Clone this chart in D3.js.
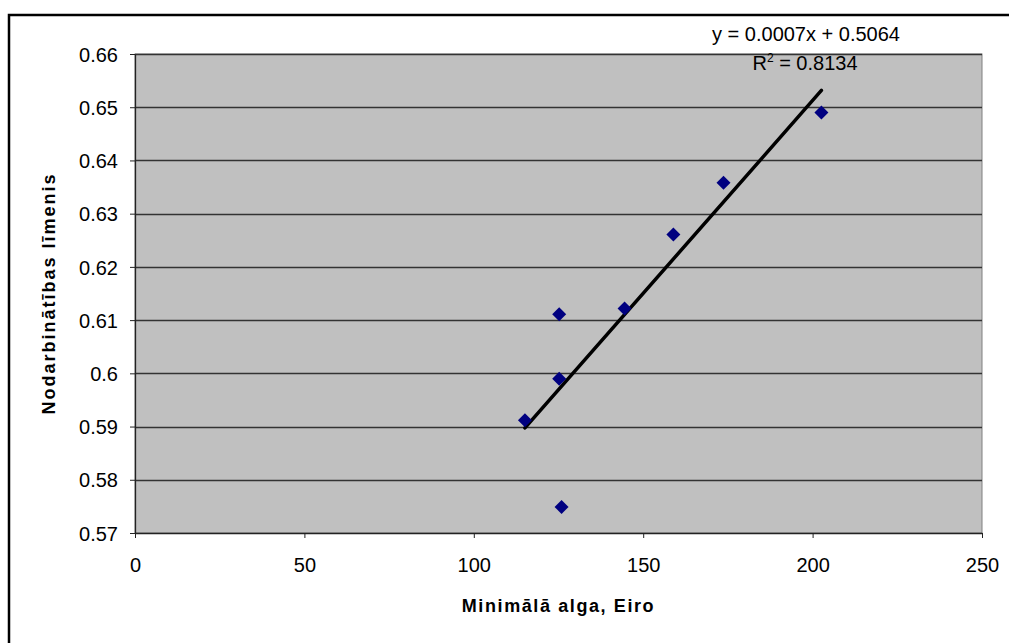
<!DOCTYPE html>
<html>
<head>
<meta charset="utf-8">
<script src="https://cdn.jsdelivr.net/npm/d3@7"></script>
<style>
  body { margin: 0; background: #fff; }
  svg { display: block; font-family: "Liberation Sans", Arial, sans-serif; }
</style>
</head>
<body>
<script>
// minimala alga (x) un nodarbinatibas limenis (y)
var minWage = [115.1, 125.2, 125.2, 125.9, 144.5, 158.9, 173.7, 202.6];
var employment = [0.5912, 0.6111, 0.5990, 0.5749, 0.6122, 0.6261, 0.6358, 0.6490];
var xTicks = [0, 50, 100, 150, 200, 250];
var yTicks = [0.57, 0.58, 0.59, 0.60, 0.61, 0.62, 0.63, 0.64, 0.65, 0.66];
var eqLabel = "y = 0.0007x + 0.5064";
var r2Value = "0.8134";

var W = 1009, H = 643;
var plotL = 135, plotT = 54, plotR = 982, plotB = 533;

var svg = d3.select("body").append("svg")
    .attr("width", W)
    .attr("height", H);

// outer frame
svg.append("rect")
    .attr("x", 9).attr("y", 15)
    .attr("width", 1020).attr("height", 660)
    .attr("fill", "white")
    .attr("stroke", "black")
    .attr("stroke-width", 2.5);

var x = d3.scaleLinear().domain([0, 250]).range([plotL, plotR]);
var y = d3.scaleLinear().domain([0.57, 0.66]).range([plotB, plotT]);

// plot area
svg.append("rect")
    .attr("x", plotL).attr("y", plotT)
    .attr("width", plotR - plotL).attr("height", plotB - plotT)
    .attr("fill", "#c0c0c0")
    .attr("stroke", "#808080")
    .attr("stroke-width", 1);

// gridlines
svg.append("g").selectAll("line")
    .data(yTicks.slice(1))
    .enter().append("line")
    .attr("x1", plotL).attr("x2", plotR)
    .attr("y1", function(d) { return Math.round(y(d)) + 0.5; })
    .attr("y2", function(d) { return Math.round(y(d)) + 0.5; })
    .attr("stroke", "#333")
    .attr("stroke-width", 1.3);

var yAxis = svg.append("g")
    .attr("transform", "translate(" + plotL + ",0)")
    .call(d3.axisLeft(y).tickValues(yTicks).tickSize(5).tickSizeOuter(0)
        .tickFormat(function(d) { return +d.toFixed(2) + ""; }));

var xAxis = svg.append("g")
    .attr("transform", "translate(0," + plotB + ")")
    .call(d3.axisBottom(x).tickValues(xTicks).tickSize(5).tickSizeOuter(0));

[xAxis, yAxis].forEach(function(a) {
    a.select(".domain").attr("stroke", "#222").attr("stroke-width", 1.3);
    a.selectAll(".tick line").attr("stroke", "#222");
    a.selectAll("text").attr("font-size", 20).attr("fill", "black")
        .attr("font-family", "Liberation Sans, Arial, sans-serif");
});
xAxis.selectAll("text").attr("y", 39).attr("dy", 0);
yAxis.selectAll("text").attr("x", -17).attr("dy", "0.36em");

// trend line (least squares)
var n = minWage.length;
var mx = d3.mean(minWage), my = d3.mean(employment);
var sxy = 0, sxx = 0;
for (var i = 0; i < n; i++) {
    sxy += (minWage[i] - mx) * (employment[i] - my);
    sxx += (minWage[i] - mx) * (minWage[i] - mx);
}
var slope = sxy / sxx, icpt = my - slope * mx;
var xMin = d3.min(minWage), xMax = d3.max(minWage);

svg.append("line")
    .attr("x1", x(xMin)).attr("y1", y(icpt + slope * xMin))
    .attr("x2", x(xMax)).attr("y2", y(icpt + slope * xMax))
    .attr("stroke", "black")
    .attr("stroke-width", 3.5)
    .attr("stroke-linecap", "round");

// points
svg.append("g").selectAll("path")
    .data(minWage)
    .enter().append("path")
    .attr("d", "M0,-7L7,0L0,7L-7,0Z")
    .attr("transform", function(d, i) { return "translate(" + x(d) + "," + y(employment[i]) + ")"; })
    .attr("fill", "#000080");

// equation
svg.append("text")
    .attr("x", 806).attr("y", 41)
    .attr("text-anchor", "middle")
    .attr("font-size", 20)
    .text(eqLabel);

var r2 = svg.append("text")
    .attr("x", 805).attr("y", 70)
    .attr("text-anchor", "middle")
    .attr("font-size", 20);
r2.append("tspan").text("R");
r2.append("tspan").attr("font-size", 12).attr("dy", -8).text("2");
r2.append("tspan").attr("dy", 8).text(" = " + r2Value);

// axis titles
svg.append("text")
    .attr("x", (plotL + plotR) / 2).attr("y", 612)
    .attr("text-anchor", "middle")
    .attr("font-size", 18)
    .attr("font-weight", "bold")
    .attr("letter-spacing", 1.6)
    .text("Minimālā alga, Eiro");

svg.append("text")
    .attr("transform", "translate(55," + ((plotT + plotB) / 2) + ") rotate(-90)")
    .attr("text-anchor", "middle")
    .attr("font-size", 18)
    .attr("font-weight", "bold")
    .attr("letter-spacing", 2)
    .text("Nodarbinātības līmenis");
</script>
</body>
</html>
